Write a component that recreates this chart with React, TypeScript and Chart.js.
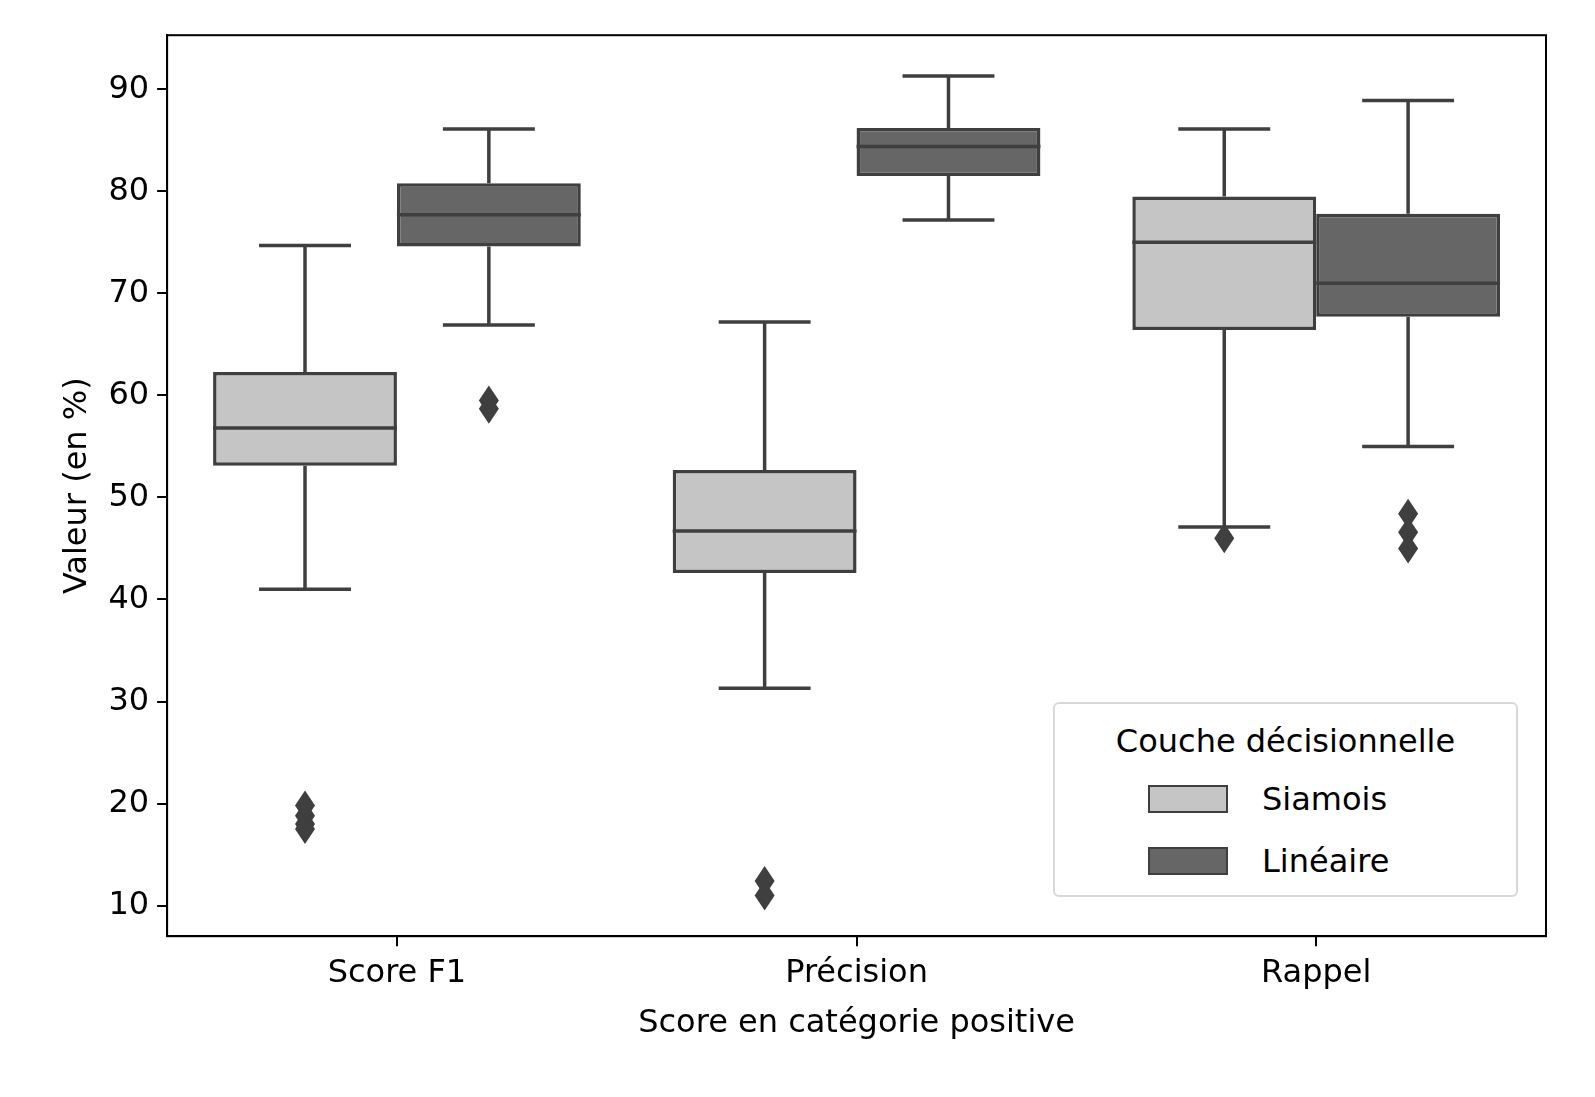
import React, { useEffect, useRef } from "react";
import Chart from "chart.js/auto";

const categories = ["Score F1", "Précision", "Rappel"];
const seriesNames = ["Siamois", "Linéaire"];
const fills = ["#c5c5c5", "#666666"];
// [min whisker, Q1, median, Q3, max whisker]
const siamois = [
	[41.0, 53.1, 56.8, 62.3, 74.7],
	[31.3, 42.6, 46.7, 52.7, 67.2],
	[47.1, 66.4, 75.0, 79.5, 86.1],
];
const lineaire = [
	[66.9, 74.6, 77.7, 80.8, 86.1],
	[77.2, 81.5, 84.4, 86.2, 91.3],
	[55.0, 67.7, 71.0, 77.8, 88.9],
];
const siamoisOutliers = [[19.8, 18.8, 18.0, 17.5], [12.4, 11.0], [46.0]];
const lineaireOutliers = [[59.5, 58.7], [], [48.4, 46.6, 45.0]];
const yTicks = [10, 20, 30, 40, 50, 60, 70, 80, 90];

const stats = [siamois, lineaire];
const outliers = [siamoisOutliers, lineaireOutliers];
const EDGE = "#3f3f3f";
const FONT = "'DejaVu Sans', sans-serif";

const boxPlugin = {
	id: "boxes",
	afterDatasetsDraw(chart: any) {
		const ctx = chart.ctx;
		const y = chart.scales.y;
		const a = chart.chartArea;
		ctx.save();
		ctx.strokeStyle = "#000";
		ctx.lineWidth = 2;
		ctx.strokeRect(a.left, a.top, a.right - a.left, a.bottom - a.top);
		ctx.strokeStyle = EDGE;
		ctx.lineWidth = 3.5;
		stats.forEach((s, di) => {
			const meta = chart.getDatasetMeta(di);
			meta.data.forEach((el: any, i: number) => {
				const x = el.x;
				const w = el.width;
				const [lo, q1, med, q3, hi] = s[i].map((v: number) => y.getPixelForValue(v));
				ctx.beginPath();
				ctx.moveTo(x, q3); ctx.lineTo(x, hi);
				ctx.moveTo(x, q1); ctx.lineTo(x, lo);
				ctx.moveTo(x - w / 4, hi); ctx.lineTo(x + w / 4, hi);
				ctx.moveTo(x - w / 4, lo); ctx.lineTo(x + w / 4, lo);
				ctx.moveTo(x - w / 2, med); ctx.lineTo(x + w / 2, med);
				ctx.stroke();
				ctx.fillStyle = EDGE;
				outliers[di][i].forEach((v: number) => {
					const py = y.getPixelForValue(v);
					ctx.beginPath();
					ctx.moveTo(x, py - 15); ctx.lineTo(x + 10, py);
					ctx.lineTo(x, py + 15); ctx.lineTo(x - 10, py);
					ctx.closePath();
					ctx.fill();
				});
			});
		});
		ctx.restore();
	},
};

const App = () => {
	const ref = useRef<HTMLCanvasElement>(null);

	useEffect(() => {
		const chart = new Chart(ref.current!, {
			type: "bar",
			data: {
				labels: categories,
				datasets: seriesNames.map((name, di) => ({
					label: name,
					data: stats[di].map((s) => [s[1], s[3]]),
					backgroundColor: fills[di],
					borderColor: EDGE,
					borderWidth: 3.5,
					borderSkipped: false,
					categoryPercentage: 0.8,
					barPercentage: 1,
				})),
			},
			options: {
				animation: false,
				responsive: false,
				layout: { padding: { top: 22, right: 41, left: 46, bottom: 42 } },
				plugins: { legend: { display: false }, tooltip: { enabled: false } },
				scales: {
					x: {
						grid: { drawOnChartArea: false, offset: false, tickLength: 10, color: "#000", lineWidth: 2 },
						border: { color: "#000", width: 2 },
						ticks: { color: "#000", font: { family: FONT, size: 32 }, padding: 8 },
						title: { display: true, text: "Score en catégorie positive", color: "#000", font: { family: FONT, size: 32 } },
					},
					y: {
						min: 7,
						max: 95.3,
						afterBuildTicks: (axis: any) => {
							axis.ticks = yTicks.map((v) => ({ value: v }));
						},
						grid: { drawOnChartArea: false, tickLength: 10, color: "#000", lineWidth: 2 },
						border: { color: "#000", width: 2 },
						ticks: { color: "#000", font: { family: FONT, size: 32 }, padding: 8 },
						title: { display: true, text: "Valeur (en %)", color: "#000", font: { family: FONT, size: 32 } },
					},
				},
			},
			plugins: [boxPlugin],
		});
		return () => chart.destroy();
	}, []);

	const swatch = (c: string) => ({
		display: "inline-block", width: 80, height: 28, background: c,
		border: "2px solid " + EDGE, boxSizing: "border-box" as const, marginRight: 34,
	});

	return (
		<div style={{ position: "relative", width: 1579, height: 1081, fontFamily: FONT }}>
			<canvas ref={ref} width={1579} height={1081} />
			<div style={{
				position: "absolute", left: 1045, top: 694, width: 465, height: 195,
				border: "2px solid #d8d8d8", borderRadius: 6, background: "#fff",
				boxSizing: "border-box", fontSize: 32, color: "#000",
			}}>
				<div style={{ textAlign: "center", marginTop: 18 }}>Couche décisionnelle</div>
				{seriesNames.map((n, i) => (
					<div key={n} style={{ display: "flex", alignItems: "center", marginLeft: 93, marginTop: i === 0 ? 20 : 24 }}>
						<span style={swatch(fills[i])} />
						{n}
					</div>
				))}
			</div>
		</div>
	);
};
export default App;
